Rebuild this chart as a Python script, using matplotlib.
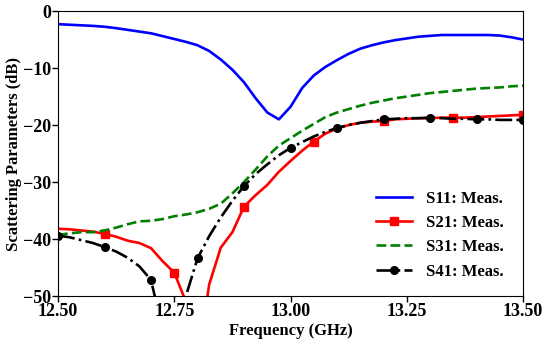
import matplotlib
matplotlib.use('Agg')
import matplotlib.pyplot as plt
import numpy as np

matplotlib.rc('font', family='Liberation Serif', size=13, weight='bold')
matplotlib.rc('axes', labelweight='bold')

freq_start, freq_stop, freq_step = 12.5, 13.5, 0.025
freq = np.round(np.arange(freq_start, freq_stop + freq_step / 2, freq_step), 3)

s11 = [-2.3, -2.4, -2.5, -2.6, -2.75, -3.0, -3.3, -3.6, -3.9, -4.4,
       -4.9, -5.4, -6.0, -7.0, -8.5, -10.3, -12.5, -15.3, -17.8, -19.0,
       -16.8, -13.5, -11.3, -9.8, -8.6, -7.5, -6.6, -6.0, -5.5, -5.1,
       -4.8, -4.5, -4.35, -4.2, -4.2, -4.2, -4.2, -4.2, -4.3, -4.6, -5.0]
s21 = [-38.2, -38.3, -38.5, -38.7, -39.1, -39.6, -40.3, -40.7, -41.6, -43.9,
       -45.9, -51.0, -62.0, -48.0, -41.5, -38.8, -34.3, -32.3, -30.5, -28.2,
       -26.3, -24.5, -22.9, -21.5, -20.6, -20.0, -19.6, -19.4, -19.3, -19.0,
       -18.9, -18.8, -18.8, -18.7, -18.7, -18.7, -18.6, -18.5, -18.4, -18.3, -18.2]
s31 = [-39.3, -39.0, -38.8, -38.8, -38.5, -38.0, -37.4, -36.9, -36.8, -36.5,
       -36.0, -35.7, -35.3, -34.7, -33.8, -32.0, -30.0, -27.8, -25.5, -23.6,
       -22.3, -21.0, -19.8, -18.6, -17.8, -17.2, -16.6, -16.1, -15.7, -15.3,
       -15.0, -14.7, -14.4, -14.2, -14.0, -13.8, -13.6, -13.5, -13.4, -13.2, -13.1]
s41 = [-39.4, -39.7, -40.2, -40.7, -41.4, -42.2, -43.3, -44.8, -47.2, -56.0,
       -62.0, -50.0, -43.4, -39.5, -36.2, -33.3, -30.7, -28.6, -26.9, -25.3,
       -24.0, -23.0, -22.0, -21.2, -20.5, -20.0, -19.6, -19.3, -19.0, -18.9,
       -18.8, -18.8, -18.7, -18.8, -18.9, -18.9, -19.0, -19.0, -19.1, -19.1, -19.1]

labels = ['S11: Meas.', 'S21: Meas.', 'S31: Meas.', 'S41: Meas.']
xticks = [12.50, 12.75, 13.00, 13.25, 13.50]
yticks = [0, -10, -20, -30, -40, -50]

fig = plt.figure(figsize=(5.5, 3.46), dpi=100)
ax = fig.add_axes([0.1055, 0.1445, 0.8455, 0.8235])

ax.plot(freq, s11, color='#0000ff', lw=1.9, label=labels[0])
ax.plot(freq, s21, color='#ff0000', lw=1.9, marker='s', ms=5.5,
        markevery=(4, 6), label=labels[1])
ax.plot(freq, s31, color='#008000', lw=1.9, ls='--', label=labels[2])
ax.plot(freq, s41, color='black', lw=1.9, ls='-.', marker='o', ms=5.5,
        markevery=4, label=labels[3])

ax.set_xlim(12.5, 13.5)
ax.set_ylim(-50, 0)
ax.set_xticks(xticks)
ax.set_xticklabels(['%.2f' % t for t in xticks])
ax.set_yticks(yticks)
ax.tick_params(direction='out', length=4, width=1, pad=1)

ax.set_xlabel('Frequency (GHz)', fontsize=12, labelpad=2)
ax.set_ylabel('Scattering Parameters (dB)', fontsize=12, labelpad=1)

ax.legend(loc='lower right', bbox_to_anchor=(0.99, 0.005), frameon=False,
          numpoints=1, handlelength=2.15, labelspacing=0.5, fontsize=12)

plt.savefig('out.png', dpi=100)
